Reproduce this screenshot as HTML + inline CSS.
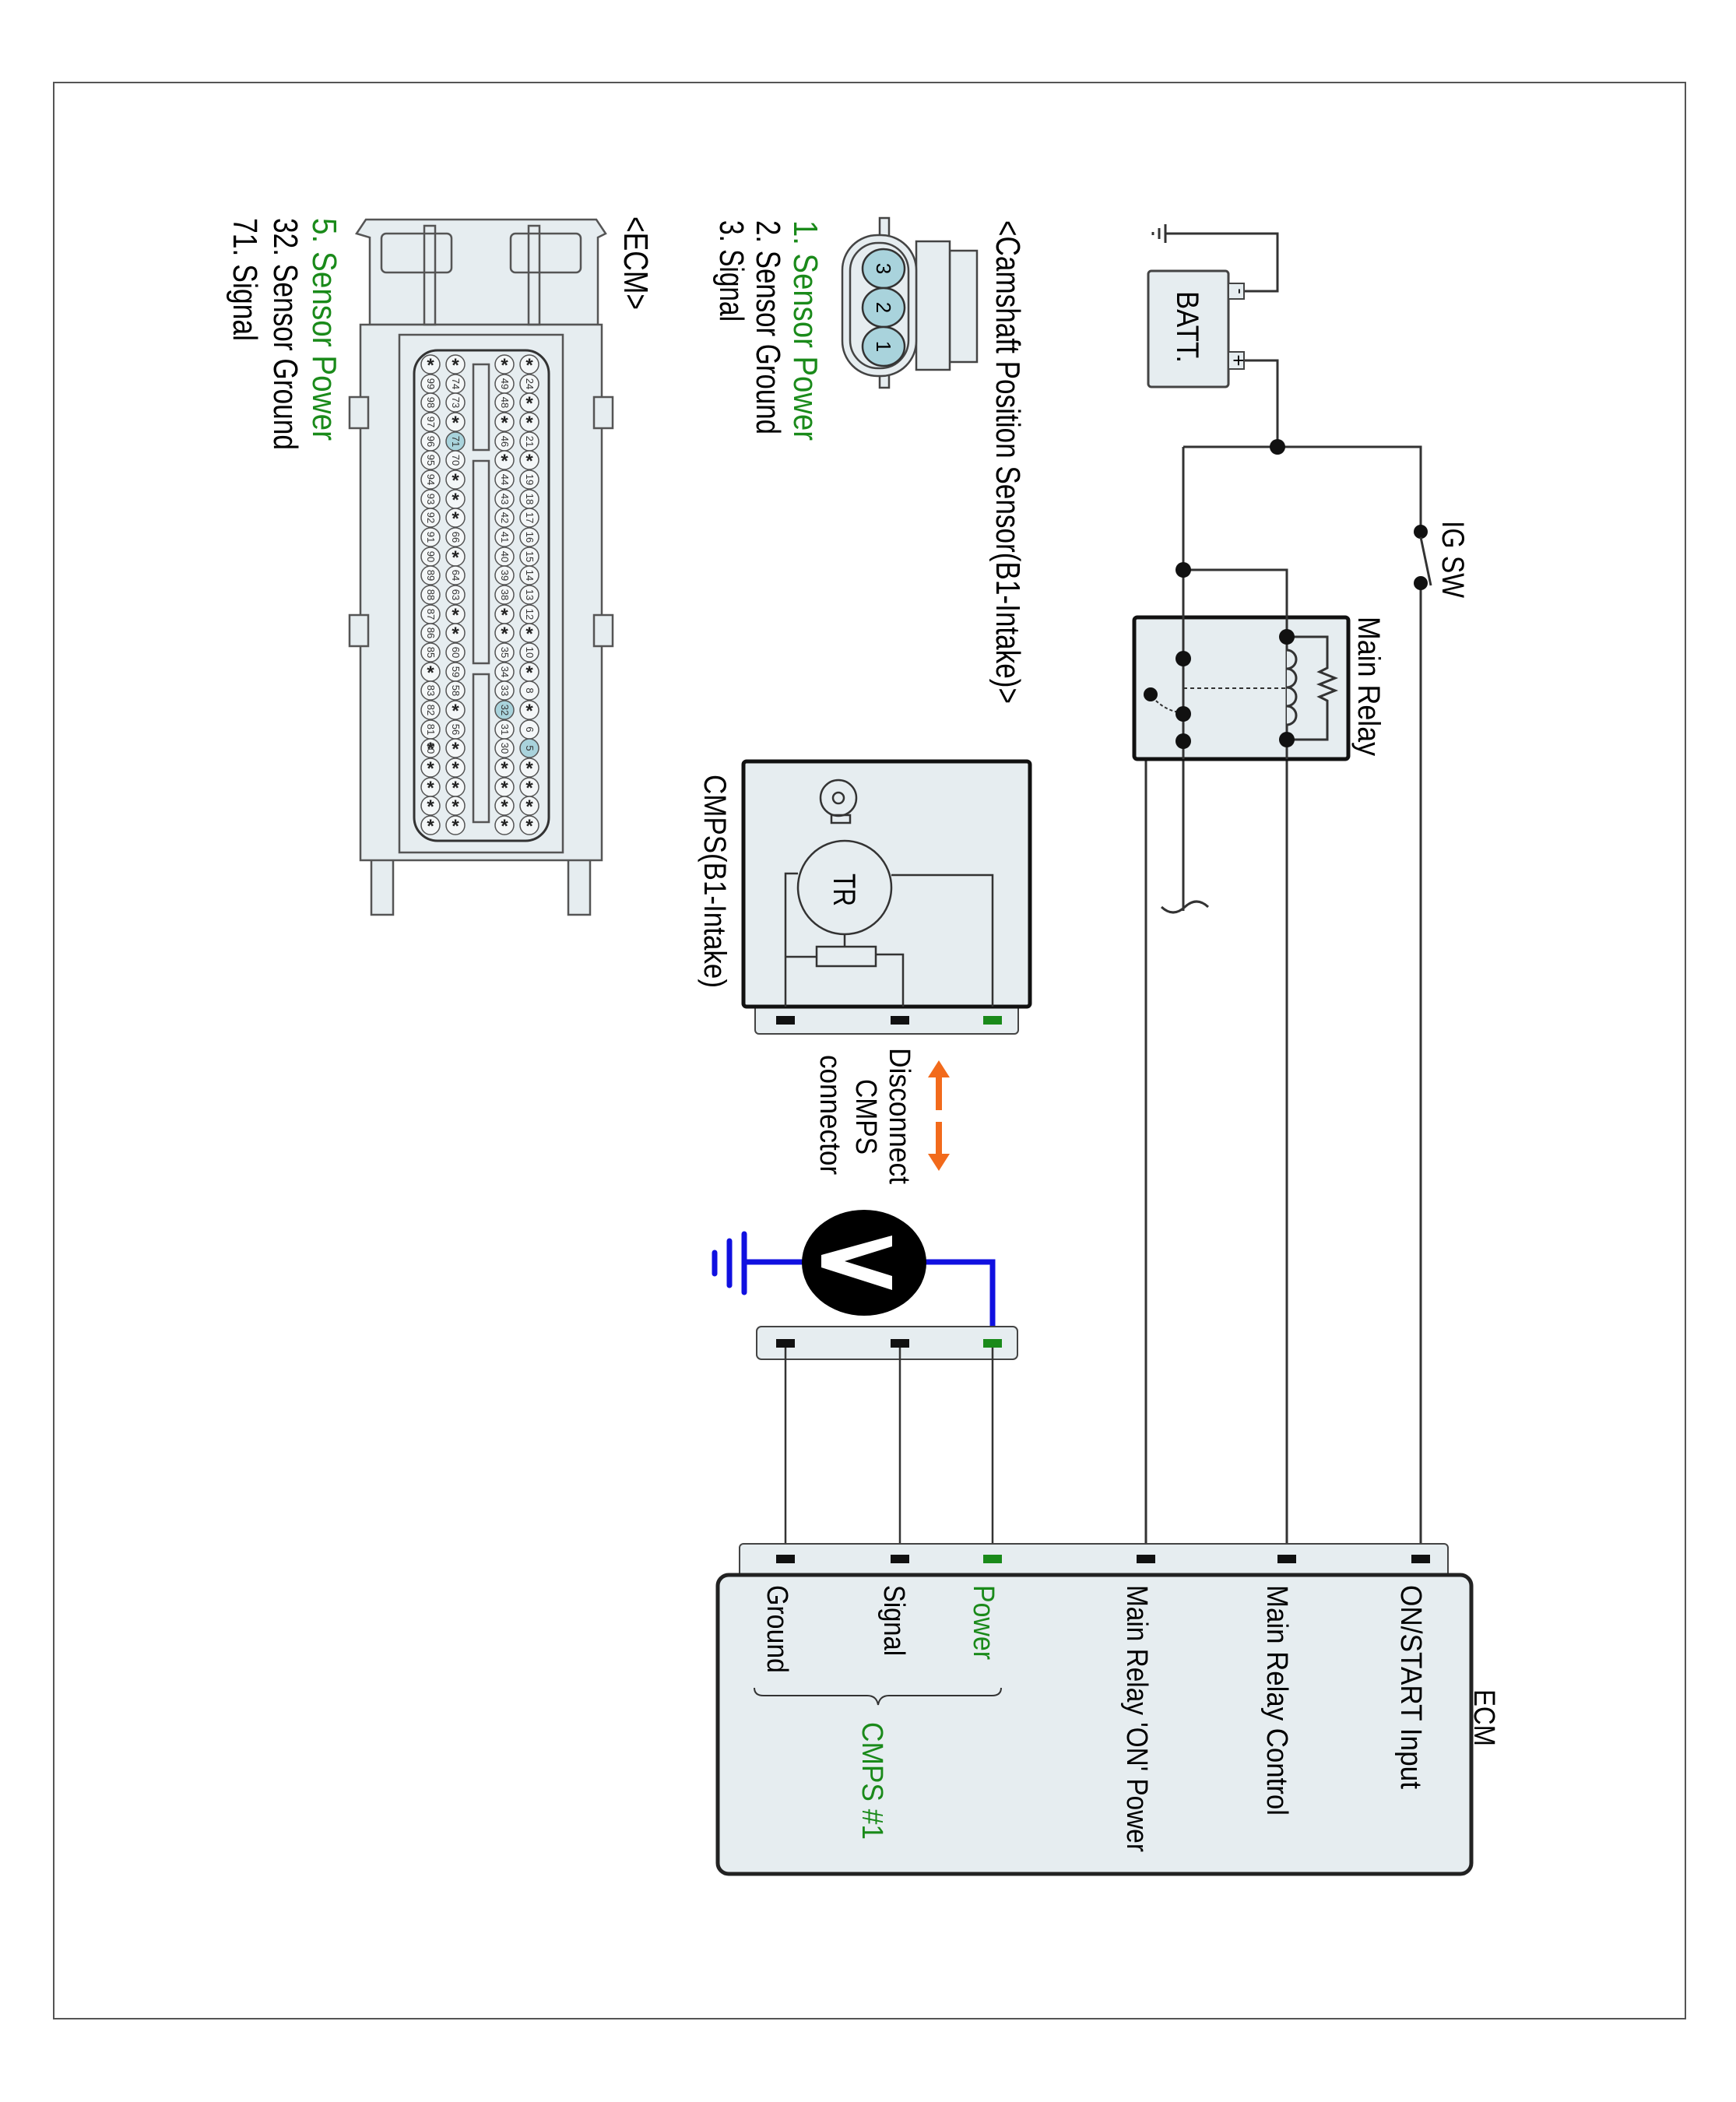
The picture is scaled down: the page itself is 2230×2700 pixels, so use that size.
<!DOCTYPE html>
<html><head><meta charset="utf-8"><style>html,body{margin:0;padding:0;background:#fff}svg{display:block}text{font-family:"Liberation Sans",sans-serif}</style></head>
<body>
<svg width="2230" height="2700" viewBox="0 0 2230 2700" xmlns="http://www.w3.org/2000/svg">
<rect x="69" y="106" width="2096" height="2487" fill="#fff" stroke="#555" stroke-width="2"/>
<g stroke="#333" stroke-width="3" fill="none">
<path d="M1497 300 H1641 V374 H1598"/>
<path d="M1598 463 H1641 V574"/>
<path d="M1520 574 H1825 V683"/>
<path d="M1825 749 V2000"/>
<path d="M1520 574 V1170"/>
<path d="M1520 732 H1653 V2000"/>
<path d="M1520 952 H1472 V2000"/>
<path d="M1492 1165 q15 14 30 0 t30 0"/>
</g>
<g stroke="#333" stroke-width="3">
<line x1="1497" y1="288" x2="1497" y2="312"/>
<line x1="1489" y1="293" x2="1489" y2="307"/>
<line x1="1481" y1="298" x2="1481" y2="302"/>
</g>
<rect x="1475" y="348" width="103" height="149" rx="4" fill="#e6edf0" stroke="#444" stroke-width="3"/>
<rect x="1578" y="364" width="20" height="20" fill="#e6edf0" stroke="#444" stroke-width="2"/>
<rect x="1578" y="452" width="20" height="22" fill="#e6edf0" stroke="#444" stroke-width="2"/>
<text x="1582" y="374" font-size="22" transform="rotate(90 1582 374)" text-anchor="middle" dy="-4">-</text>
<text x="1580" y="463" font-size="26" transform="rotate(90 1580 463)" text-anchor="middle" dy="-2">+</text>
<text x="1512" y="374" font-size="40" transform="rotate(90 1512 374)" textLength="92" lengthAdjust="spacingAndGlyphs">BATT.</text>
<circle cx="1825" cy="683" r="9" fill="#111"/><circle cx="1825" cy="749" r="9" fill="#111"/>
<line x1="1825" y1="690" x2="1838" y2="752" stroke="#333" stroke-width="3"/>
<text x="1853" y="669" font-size="40" transform="rotate(90 1853 669)" textLength="99" lengthAdjust="spacingAndGlyphs">IG SW</text>
<circle cx="1641" cy="574" r="10" fill="#111"/><circle cx="1520" cy="732" r="10" fill="#111"/>
<rect x="1457" y="793" width="275" height="182" rx="4" fill="#e6edf0" stroke="#111" stroke-width="5"/>
<g stroke="#333" stroke-width="3" fill="none">
<line x1="1520" y1="790" x2="1520" y2="975"/>
<line x1="1653" y1="790" x2="1653" y2="975"/>
<path d="M1653 818 H1705 V858 l-10 5 20 8 -20 8 20 8 -20 8 10 5 V950 H1653"/>
<path d="M1653 835 a12 12 0 0 1 0 24 a12 12 0 0 1 0 24 a12 12 0 0 1 0 24 a12 12 0 0 1 0 24" fill="#e6edf0"/>
<line x1="1520" y1="884" x2="1653" y2="884" stroke-dasharray="5 4" stroke-width="2"/>
<path d="M1480 895 Q1495 912 1515 915" stroke-dasharray="4 3" stroke-width="2"/>
</g>
<g fill="#111"><circle cx="1520" cy="846" r="10"/><circle cx="1520" cy="917" r="10"/><circle cx="1520" cy="952" r="10"/><circle cx="1653" cy="818" r="10"/><circle cx="1653" cy="950" r="10"/><circle cx="1478" cy="892" r="9"/></g>
<text x="1745" y="792" font-size="40" transform="rotate(90 1745 792)" textLength="179" lengthAdjust="spacingAndGlyphs">Main Relay</text>
<rect x="970" y="1290" width="338" height="38" rx="5" fill="#e6edf0" stroke="#444" stroke-width="2"/>
<rect x="955" y="978" width="368" height="315" rx="4" fill="#e6edf0" stroke="#111" stroke-width="5"/>
<g stroke="#333" stroke-width="2.5" fill="none">
<circle cx="1085" cy="1140" r="60"/>
<path d="M1025 1122 H1009 V1293"/>
<path d="M1145 1124 H1275 V1293"/>
<line x1="1085" y1="1200" x2="1085" y2="1216"/>
<rect x="1049" y="1216" width="76" height="25"/>
<line x1="1009" y1="1229" x2="1049" y2="1229"/>
<path d="M1125 1226 H1160 V1293"/>
<circle cx="1077" cy="1025" r="23"/><circle cx="1077" cy="1025" r="7"/>
<rect x="1068" y="1047" width="24" height="10"/>
</g>
<text x="1071" y="1122" font-size="40" transform="rotate(90 1071 1122)" textLength="42" lengthAdjust="spacingAndGlyphs">TR</text>
<rect x="997" y="1305" width="24" height="11" fill="#111"/><rect x="1144" y="1305" width="24" height="11" fill="#111"/><rect x="1263" y="1305" width="24" height="11" fill="#1a8a1a"/>
<text x="905" y="995" font-size="40" transform="rotate(90 905 995)" textLength="274" lengthAdjust="spacingAndGlyphs">CMPS(B1-Intake)</text>
<g fill="#f26a1b"><rect x="1202" y="1378" width="8" height="48"/><polygon points="1206,1362 1192,1384 1220,1384"/><rect x="1202" y="1441" width="8" height="46"/><polygon points="1206,1504 1192,1482 1220,1482"/></g>
<text x="1143" y="1346" font-size="38" transform="rotate(90 1143 1346)" textLength="175" lengthAdjust="spacingAndGlyphs">Disconnect</text>
<text x="1100" y="1386" font-size="38" transform="rotate(90 1100 1386)" textLength="97" lengthAdjust="spacingAndGlyphs">CMPS</text>
<text x="1054" y="1355" font-size="38" transform="rotate(90 1054 1355)" textLength="154" lengthAdjust="spacingAndGlyphs">connector</text>
<g stroke="#1010e0" stroke-width="7" fill="none" stroke-linecap="round">
<path d="M1185 1621 H1275 V1722"/><line x1="956" y1="1621" x2="1035" y2="1621"/>
<line x1="956" y1="1585" x2="956" y2="1660"/><line x1="937" y1="1594" x2="937" y2="1651"/><line x1="918" y1="1609" x2="918" y2="1636"/>
</g>
<ellipse cx="1110" cy="1622" rx="80" ry="68" fill="#000"/>
<polygon points="1146,1587 1146,1601 1085,1620 1146,1639 1146,1657 1055,1628 1055,1612" fill="#fff"/>
<rect x="972" y="1704" width="335" height="42" rx="6" fill="#e6edf0" stroke="#444" stroke-width="2"/>
<rect x="997" y="1720" width="24" height="11" fill="#111"/><rect x="1144" y="1720" width="24" height="11" fill="#111"/><rect x="1263" y="1720" width="24" height="11" fill="#1a8a1a"/>
<g stroke="#333" stroke-width="2.5"><line x1="1009" y1="1731" x2="1009" y2="2000"/><line x1="1156" y1="1731" x2="1156" y2="2000"/><line x1="1275" y1="1731" x2="1275" y2="2000"/></g>
<rect x="950" y="1983" width="910" height="45" rx="5" fill="#e6edf0" stroke="#444" stroke-width="2"/>
<rect x="922" y="2023" width="968" height="384" rx="14" fill="#e6edf0" stroke="#222" stroke-width="5"/>
<g fill="#111"><rect x="997" y="1997" width="24" height="11"/><rect x="1144" y="1997" width="24" height="11"/><rect x="1460" y="1997" width="24" height="11"/><rect x="1641" y="1997" width="24" height="11"/><rect x="1813" y="1997" width="24" height="11"/></g>
<rect x="1263" y="1997" width="24" height="11" fill="#1a8a1a"/>
<g font-size="38">
<text x="1800" y="2036" transform="rotate(90 1800 2036)" textLength="262" lengthAdjust="spacingAndGlyphs">ON/START Input</text>
<text x="1628" y="2036" transform="rotate(90 1628 2036)" textLength="296" lengthAdjust="spacingAndGlyphs">Main Relay Control</text>
<text x="1448" y="2036" transform="rotate(90 1448 2036)" textLength="343" lengthAdjust="spacingAndGlyphs">Main Relay 'ON' Power</text>
<text x="1251" y="2036" transform="rotate(90 1251 2036)" textLength="96" lengthAdjust="spacingAndGlyphs" fill="#1a8a1a">Power</text>
<text x="1136" y="2036" transform="rotate(90 1136 2036)" textLength="91" lengthAdjust="spacingAndGlyphs">Signal</text>
<text x="986" y="2036" transform="rotate(90 986 2036)" textLength="113" lengthAdjust="spacingAndGlyphs">Ground</text>
<text x="1108" y="2212" transform="rotate(90 1108 2212)" textLength="151" lengthAdjust="spacingAndGlyphs" fill="#1a8a1a">CMPS #1</text>
<text x="1894" y="2170" transform="rotate(90 1894 2170)" textLength="73" lengthAdjust="spacingAndGlyphs">ECM</text>
</g>
<path d="M969 2168 q0 10 12 10 H1114 q12 0 14 12 q2 -12 14 -12 H1274 q12 0 12 -10" fill="none" stroke="#333" stroke-width="2"/>
<g stroke="#444" stroke-width="2.5" fill="#e6edf0">
<rect x="1220" y="322" width="35" height="143"/>
<rect x="1177" y="310" width="43" height="165"/>
<rect x="1130" y="280" width="12" height="218"/>
<rect x="1082" y="302" width="95" height="181" rx="45"/>
<rect x="1092" y="312" width="75" height="161" rx="36"/>
</g>
<g fill="#a9d3dc" stroke="#333" stroke-width="2.5"><ellipse cx="1135" cy="345" rx="27" ry="25"/><ellipse cx="1135" cy="395" rx="27" ry="25"/><ellipse cx="1135" cy="445" rx="27" ry="25"/></g>
<g font-size="26"><text x="1126" y="345" transform="rotate(90 1126 345)" text-anchor="middle">3</text><text x="1126" y="395" transform="rotate(90 1126 395)" text-anchor="middle">2</text><text x="1126" y="445" transform="rotate(90 1126 445)" text-anchor="middle">1</text></g>
<g font-size="44">
<text x="1280" y="283" transform="rotate(90 1280 283)" textLength="621" lengthAdjust="spacingAndGlyphs">&lt;Camshaft Position Sensor(B1-Intake)&gt;</text>
<text x="1020" y="283" transform="rotate(90 1020 283)" textLength="283" lengthAdjust="spacingAndGlyphs" fill="#1a8a1a">1. Sensor Power</text>
<text x="972" y="283" transform="rotate(90 972 283)" textLength="275" lengthAdjust="spacingAndGlyphs">2. Sensor Ground</text>
<text x="925" y="283" transform="rotate(90 925 283)" textLength="130" lengthAdjust="spacingAndGlyphs">3. Signal</text>
<text x="802" y="278" transform="rotate(90 802 278)" textLength="120" lengthAdjust="spacingAndGlyphs">&lt;ECM&gt;</text>
<text x="402" y="280" transform="rotate(90 402 280)" textLength="286" lengthAdjust="spacingAndGlyphs" fill="#1a8a1a">5. Sensor Power</text>
<text x="352" y="280" transform="rotate(90 352 280)" textLength="298" lengthAdjust="spacingAndGlyphs">32. Sensor Ground</text>
<text x="300" y="280" transform="rotate(90 300 280)" textLength="158" lengthAdjust="spacingAndGlyphs">71. Signal</text>
</g>
<g stroke="#555" stroke-width="2.5" fill="#e6edf0">
<rect x="477" y="1100" width="28" height="75"/><rect x="730" y="1100" width="28" height="75"/>
<path d="M458 300 L470 282 H766 L778 300 L768 305 V417 H475 V305 Z"/>
<rect x="463" y="417" width="310" height="688"/>
<path d="M513 430 H723 V1095 H513 Z"/>
<rect x="532" y="450" width="173" height="630" rx="30" stroke="#333" stroke-width="3"/>
<rect x="449" y="510" width="24" height="40"/><rect x="763" y="510" width="24" height="40"/>
<rect x="449" y="790" width="24" height="40"/><rect x="763" y="790" width="24" height="40"/>
<rect x="608" y="468" width="20" height="110"/><rect x="608" y="592" width="20" height="260"/><rect x="608" y="866" width="20" height="190"/>
<rect x="545" y="290" width="14" height="127" fill="none"/><rect x="679" y="290" width="14" height="127" fill="none"/>
<rect x="490" y="300" width="90" height="50" rx="6" fill="none"/><rect x="656" y="300" width="90" height="50" rx="6" fill="none"/>
</g>
<g fill="#f4f7f8" stroke="#555" stroke-width="1.5">
<g transform="translate(680 0)"><circle cy="468" r="12"/><circle cy="493" r="12"/><circle cy="517" r="12"/><circle cy="542" r="12"/><circle cy="567" r="12"/><circle cy="591" r="12"/><circle cy="616" r="12"/><circle cy="641" r="12"/><circle cy="665" r="12"/><circle cy="690" r="12"/><circle cy="715" r="12"/><circle cy="739" r="12"/><circle cy="764" r="12"/><circle cy="789" r="12"/><circle cy="813" r="12"/><circle cy="838" r="12"/><circle cy="863" r="12"/><circle cy="887" r="12"/><circle cy="912" r="12"/><circle cy="937" r="12"/><circle cy="961" r="12" fill="#a9d3dc"/><circle cy="986" r="12"/><circle cy="1011" r="12"/><circle cy="1035" r="12"/><circle cy="1060" r="12"/></g>
<g transform="translate(648 0)"><circle cy="468" r="12"/><circle cy="493" r="12"/><circle cy="517" r="12"/><circle cy="542" r="12"/><circle cy="567" r="12"/><circle cy="591" r="12"/><circle cy="616" r="12"/><circle cy="641" r="12"/><circle cy="665" r="12"/><circle cy="690" r="12"/><circle cy="715" r="12"/><circle cy="739" r="12"/><circle cy="764" r="12"/><circle cy="789" r="12"/><circle cy="813" r="12"/><circle cy="838" r="12"/><circle cy="863" r="12"/><circle cy="887" r="12"/><circle cy="912" r="12" fill="#a9d3dc"/><circle cy="937" r="12"/><circle cy="961" r="12"/><circle cy="986" r="12"/><circle cy="1011" r="12"/><circle cy="1035" r="12"/><circle cy="1060" r="12"/></g>
<g transform="translate(585 0)"><circle cy="468" r="12"/><circle cy="493" r="12"/><circle cy="517" r="12"/><circle cy="542" r="12"/><circle cy="567" r="12" fill="#a9d3dc"/><circle cy="591" r="12"/><circle cy="616" r="12"/><circle cy="641" r="12"/><circle cy="665" r="12"/><circle cy="690" r="12"/><circle cy="715" r="12"/><circle cy="739" r="12"/><circle cy="764" r="12"/><circle cy="789" r="12"/><circle cy="813" r="12"/><circle cy="838" r="12"/><circle cy="863" r="12"/><circle cy="887" r="12"/><circle cy="912" r="12"/><circle cy="937" r="12"/><circle cy="961" r="12"/><circle cy="986" r="12"/><circle cy="1011" r="12"/><circle cy="1035" r="12"/><circle cy="1060" r="12"/></g>
<g transform="translate(553 0)"><circle cy="468" r="12"/><circle cy="493" r="12"/><circle cy="517" r="12"/><circle cy="542" r="12"/><circle cy="567" r="12"/><circle cy="591" r="12"/><circle cy="616" r="12"/><circle cy="641" r="12"/><circle cy="665" r="12"/><circle cy="690" r="12"/><circle cy="715" r="12"/><circle cy="739" r="12"/><circle cy="764" r="12"/><circle cy="789" r="12"/><circle cy="813" r="12"/><circle cy="838" r="12"/><circle cy="863" r="12"/><circle cy="887" r="12"/><circle cy="912" r="12"/><circle cy="937" r="12"/><circle cy="961" r="12"/><circle cy="986" r="12"/><circle cy="1011" r="12"/><circle cy="1035" r="12"/><circle cy="1060" r="12"/></g>
</g>
<g font-size="24" font-weight="bold" text-anchor="middle" fill="#222">
<g transform="translate(680 9)"><text y="468">*</text><text y="517">*</text><text y="542">*</text><text y="591">*</text><text y="813">*</text><text y="863">*</text><text y="912">*</text><text y="986">*</text><text y="1011">*</text><text y="1035">*</text><text y="1060">*</text></g>
<g transform="translate(648 9)"><text y="468">*</text><text y="542">*</text><text y="591">*</text><text y="789">*</text><text y="813">*</text><text y="986">*</text><text y="1011">*</text><text y="1035">*</text><text y="1060">*</text></g>
<g transform="translate(585 9)"><text y="468">*</text><text y="542">*</text><text y="616">*</text><text y="641">*</text><text y="665">*</text><text y="715">*</text><text y="789">*</text><text y="813">*</text><text y="912">*</text><text y="961">*</text><text y="986">*</text><text y="1011">*</text><text y="1035">*</text><text y="1060">*</text></g>
<g transform="translate(553 9)"><text y="468">*</text><text y="863">*</text><text y="961">*</text><text y="986">*</text><text y="1011">*</text><text y="1035">*</text><text y="1060">*</text></g>
</g>
<g font-size="13" text-anchor="middle" fill="#333">
<text transform="translate(676 493) rotate(90)">24</text><text transform="translate(676 567) rotate(90)">21</text><text transform="translate(676 616) rotate(90)">19</text><text transform="translate(676 641) rotate(90)">18</text><text transform="translate(676 665) rotate(90)">17</text><text transform="translate(676 690) rotate(90)">16</text><text transform="translate(676 715) rotate(90)">15</text><text transform="translate(676 739) rotate(90)">14</text><text transform="translate(676 764) rotate(90)">13</text><text transform="translate(676 789) rotate(90)">12</text><text transform="translate(676 838) rotate(90)">10</text><text transform="translate(676 887) rotate(90)">8</text><text transform="translate(676 937) rotate(90)">6</text><text transform="translate(676 961) rotate(90)">5</text>
<text transform="translate(644 493) rotate(90)">49</text><text transform="translate(644 517) rotate(90)">48</text><text transform="translate(644 567) rotate(90)">46</text><text transform="translate(644 616) rotate(90)">44</text><text transform="translate(644 641) rotate(90)">43</text><text transform="translate(644 665) rotate(90)">42</text><text transform="translate(644 690) rotate(90)">41</text><text transform="translate(644 715) rotate(90)">40</text><text transform="translate(644 739) rotate(90)">39</text><text transform="translate(644 764) rotate(90)">38</text><text transform="translate(644 838) rotate(90)">35</text><text transform="translate(644 863) rotate(90)">34</text><text transform="translate(644 887) rotate(90)">33</text><text transform="translate(644 912) rotate(90)">32</text><text transform="translate(644 937) rotate(90)">31</text><text transform="translate(644 961) rotate(90)">30</text>
<text transform="translate(581 493) rotate(90)">74</text><text transform="translate(581 517) rotate(90)">73</text><text transform="translate(581 567) rotate(90)">71</text><text transform="translate(581 591) rotate(90)">70</text><text transform="translate(581 690) rotate(90)">66</text><text transform="translate(581 739) rotate(90)">64</text><text transform="translate(581 764) rotate(90)">63</text><text transform="translate(581 838) rotate(90)">60</text><text transform="translate(581 863) rotate(90)">59</text><text transform="translate(581 887) rotate(90)">58</text><text transform="translate(581 937) rotate(90)">56</text>
<text transform="translate(549 493) rotate(90)">99</text><text transform="translate(549 517) rotate(90)">98</text><text transform="translate(549 542) rotate(90)">97</text><text transform="translate(549 567) rotate(90)">96</text><text transform="translate(549 591) rotate(90)">95</text><text transform="translate(549 616) rotate(90)">94</text><text transform="translate(549 641) rotate(90)">93</text><text transform="translate(549 665) rotate(90)">92</text><text transform="translate(549 690) rotate(90)">91</text><text transform="translate(549 715) rotate(90)">90</text><text transform="translate(549 739) rotate(90)">89</text><text transform="translate(549 764) rotate(90)">88</text><text transform="translate(549 789) rotate(90)">87</text><text transform="translate(549 813) rotate(90)">86</text><text transform="translate(549 838) rotate(90)">85</text><text transform="translate(549 887) rotate(90)">83</text><text transform="translate(549 912) rotate(90)">82</text><text transform="translate(549 937) rotate(90)">81</text><text transform="translate(549 961) rotate(90)">80</text>
</g>
</svg>
</body></html>
